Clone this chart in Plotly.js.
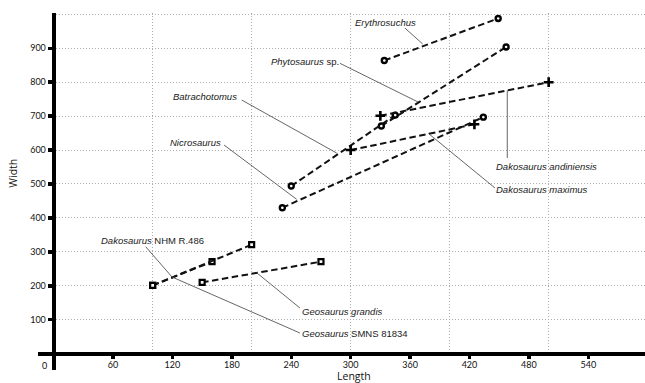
<!DOCTYPE html>
<html>
<head>
<meta charset="utf-8">
<script src="https://cdn.plot.ly/plotly-3.0.1.min.js"></script>
<style>html,body{margin:0;padding:0;background:#fff}#chart{width:645px;height:383px}</style>
</head>
<body>
<div id="chart"></div>
<script>
// ---- data ----
const speciesNames = ['Erythrosuchus', 'Phytosaurus sp.', 'Batrachotomus', 'Nicrosaurus',
  'Dakosaurus andiniensis', 'Dakosaurus maximus', 'Dakosaurus NHM R.486',
  'Geosaurus grandis', 'Geosaurus SMNS 81834'];
const labelTexts = ['<i>Erythrosuchus</i>', '<i>Phytosaurus</i> sp.', '<i>Batrachotomus</i>',
  '<i>Nicrosaurus</i>', '<i>Dakosaurus andiniensis</i>', '<i>Dakosaurus maximus</i>',
  '<i>Dakosaurus</i> NHM R.486', '<i>Geosaurus grandis</i>', '<i>Geosaurus</i> SMNS 81834'];
const erythrosuchusLength = [334, 449];
const erythrosuchusWidth = [864, 988];
const phytosaurusLength = [331, 457];
const phytosaurusWidth = [671, 904];
const batrachotomusLength = [240, 345];
const batrachotomusWidth = [494, 703];
const nicrosaurusLength = [231, 434];
const nicrosaurusWidth = [430, 697];
const andiniensisLength = [330, 500];
const andiniensisWidth = [701, 800];
const maximusLength = [300, 425];
const maximusWidth = [600, 676];
const nhmLength = [100, 160];
const nhmWidth = [201, 271];
const grandisLength = [150, 270];
const grandisWidth = [210, 271];
const smnsLength = [100, 200];
const smnsWidth = [201, 321];
const xTickVals = [60, 120, 180, 240, 300, 360, 420, 480, 540];
const yTickVals = [100, 200, 300, 400, 500, 600, 700, 800, 900];
const xTitle = 'Length';
const yTitle = 'Width';

// ---- layout helpers (positions / styles, not data) ----
const lengths = [erythrosuchusLength, phytosaurusLength, batrachotomusLength, nicrosaurusLength,
  andiniensisLength, maximusLength, nhmLength, grandisLength, smnsLength];
const widths = [erythrosuchusWidth, phytosaurusWidth, batrachotomusWidth, nicrosaurusWidth,
  andiniensisWidth, maximusWidth, nhmWidth, grandisWidth, smnsWidth];
const markerKind = ['circle', 'circle', 'circle', 'circle', 'cross', 'cross', 'square', 'square', 'square'];
// label centre (data units) and leader line tail/head (data units)
const labelPos = [
  {x: 334.7, y: 977, t: [354.8, 959.6], h: [372.8, 912.5]},
  {x: 253.6, y: 860, t: [289.2, 855.6], h: [368.0, 741.7]},
  {x: 153.3, y: 757, t: [190.0, 747.4], h: [285.9, 591.2]},
  {x: 143.5, y: 621, t: [172.1, 614.8], h: [245.5, 454.8]},
  {x: 498.0, y: 553, t: [458.2, 576.5], h: [458.2, 776.0]},
  {x: 493.4, y: 483, t: [445.8, 488.1], h: [378.4, 649.3]},
  {x: 100.3, y: 333, t: [93.0, 315.0], h: [119.6, 225.8]},
  {x: 292.0, y: 123, t: [248.8, 134.4], h: [205.1, 238.4]},
  {x: 304.2, y: 58, t: [248.8, 60.7], h: [119.6, 225.8]}
];

const xRange = [-15.8, 597.3];
const yRange = [-48.3, 1004];
const xFrac = (0 - xRange[0]) / (xRange[1] - xRange[0]);
const yFrac = (0 - yRange[0]) / (yRange[1] - yRange[0]);

function markerFor(kind) {
  if (kind === 'circle') return {symbol: 'circle', size: 5, color: '#fff', line: {color: '#000', width: 2.4}};
  if (kind === 'square') return {symbol: 'square', size: 5, color: '#fff', line: {color: '#000', width: 2.2}};
  return {symbol: 'cross-thin', size: 7, color: '#000', line: {color: '#000', width: 2.6}};
}

const traces = speciesNames.map((name, i) => ({
  type: 'scatter', mode: 'lines+markers', name: name,
  x: lengths[i], y: widths[i],
  line: {color: '#111', width: 2, dash: '6.5px,3.5px'},
  marker: markerFor(markerKind[i]),
  showlegend: false, hoverinfo: 'x+y+name'
}));
// empty trace that carries the labelled axes
traces.push({type: 'scatter', x: [], y: [], xaxis: 'x2', yaxis: 'y2', showlegend: false, hoverinfo: 'skip'});

const annFont = {family: 'Liberation Sans, Arial, sans-serif', size: 9.5, color: '#1a1a1a'};
const tickFont = {family: 'Lato, sans-serif', size: 9, color: '#111'};
const titleFont = {family: 'Open Sans, sans-serif', size: 10.5, color: '#111'};

const annotations = labelTexts.map((txt, i) => ({
  text: txt, x: labelPos[i].x, y: labelPos[i].y, xref: 'x', yref: 'y',
  showarrow: false, xanchor: 'center', yanchor: 'middle', font: annFont
}));
annotations.push({text: '0', x: 0, y: 0, xref: 'x', yref: 'y', showarrow: false,
  xanchor: 'center', yanchor: 'top', xshift: -9, yshift: -4, font: tickFont});
// axis titles, placed where the reference has them
annotations.push({text: xTitle, xref: 'paper', yref: 'paper', x: 0.52, y: 0, yshift: -14,
  xanchor: 'center', yanchor: 'bottom', borderpad: 0, showarrow: false, font: titleFont});
annotations.push({text: yTitle, xref: 'paper', yref: 'paper', x: 0, y: 0.55, xshift: -25,
  xanchor: 'center', yanchor: 'middle', textangle: -90, showarrow: false, font: titleFont});

const shapes = labelPos.map(p => ({
  type: 'line', xref: 'x', yref: 'y', x0: p.t[0], y0: p.t[1], x1: p.h[0], y1: p.h[1],
  line: {color: '#555', width: 0.9}, layer: 'above'
}));
// hide grid outside the axes cross
shapes.push({type: 'rect', xref: 'x', yref: 'y', x0: xRange[0], x1: 0, y0: yRange[0], y1: yRange[1],
  fillcolor: '#fff', line: {width: 0}, layer: 'between'});
shapes.push({type: 'rect', xref: 'x', yref: 'y', x0: xRange[0], x1: xRange[1], y0: yRange[0], y1: 0,
  fillcolor: '#fff', line: {width: 0}, layer: 'between'});

const layout = {
  width: 645, height: 383,
  margin: {l: 38, r: 0, t: 13, b: 13},
  paper_bgcolor: '#fff', plot_bgcolor: '#fff',
  showlegend: false,
  xaxis: {range: xRange, tick0: 0, dtick: 100, showgrid: true, gridcolor: '#adadad', gridwidth: 1,
    griddash: '1px,2px', zeroline: false, showticklabels: false, ticks: '', showline: false},
  yaxis: {range: yRange, tick0: 0, dtick: 100, showgrid: true, gridcolor: '#adadad', gridwidth: 1,
    griddash: '1px,2px', zeroline: false, showticklabels: false, ticks: '', showline: false},
  xaxis2: {overlaying: 'x', range: xRange, anchor: 'free', position: yFrac, side: 'bottom',
    tickmode: 'array', tickvals: xTickVals, ticks: 'outside', ticklen: 3.5, tickwidth: 3.5, tickcolor: '#000',
    ticklabelstandoff: -2,
    showline: true, linewidth: 4, linecolor: '#000', showgrid: false, zeroline: false,
    tickfont: tickFont},
  yaxis2: {overlaying: 'y', range: yRange, anchor: 'free', position: xFrac, side: 'left',
    tickmode: 'array', tickvals: yTickVals, ticks: 'outside', ticklen: 4, tickwidth: 3.5, tickcolor: '#000',
    showline: true, linewidth: 4, linecolor: '#000', showgrid: false, zeroline: false,
    tickfont: tickFont},
  annotations: annotations,
  shapes: shapes
};

Plotly.newPlot('chart', traces, layout, {displayModeBar: false, staticPlot: true});
</script>
</body>
</html>
